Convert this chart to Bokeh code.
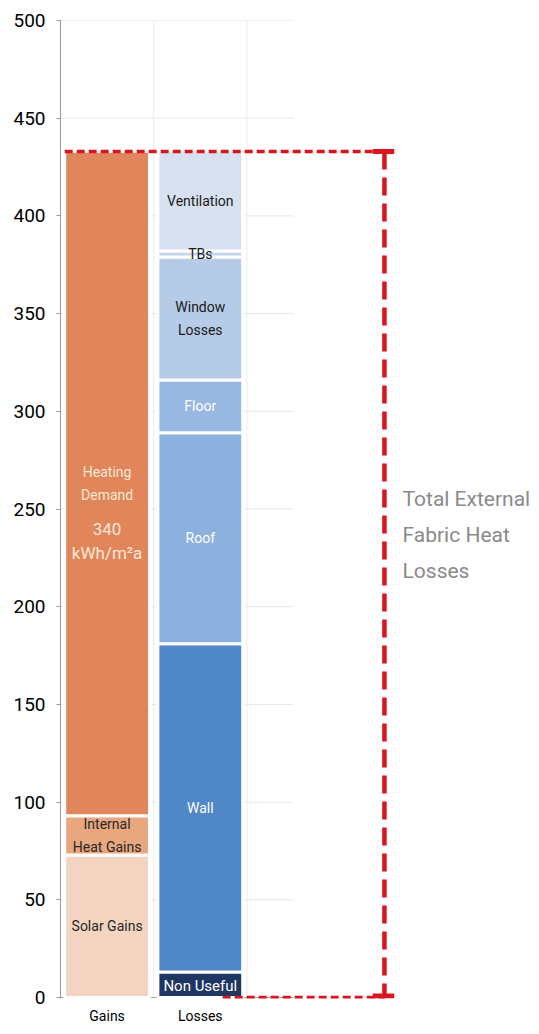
import numpy as np
from bokeh.plotting import figure
from bokeh.models import Range1d, FixedTicker, ColumnDataSource
from bokeh.core.properties import value
from bokeh.embed import file_html
from bokeh.resources import INLINE

# ---------------- data ----------------
categories = ["Gains", "Losses"]

gains_labels = ["Solar Gains", "Internal\nHeat Gains", "Heating\nDemand"]
gains_values = [73, 20, 340]

losses_labels = ["Non Useful", "Wall", "Roof", "Floor", "Window\nLosses", "TBs", "Ventilation"]
losses_values = [13, 168, 108, 27, 63, 3, 51]

y_ticks = [0, 50, 100, 150, 200, 250, 300, 350, 400, 450, 500]

heating_value_text = "340\nkWh/m²a"
bracket_text = "Total External\nFabric Heat\nLosses"

# ---------------- styles ----------------
gains_colors = ["#f2d4c1", "#e9a780", "#e0865a"]
gains_text_colors = ["#262626", "#262626", "#fbe6d8"]
losses_colors = ["#1e3662", "#4f87c7", "#8db1df", "#98b8e1", "#b5cbe6", "#c3d4ec", "#d8e1f0"]
losses_text_colors = ["#ffffff", "#ffffff", "#ffffff", "#ffffff", "#1a1a1a", "#1a1a1a", "#1a1a1a"]

FONT = "Roboto"
RED = "#d9151e"
BAR_W = 0.91

p = figure(width=531, height=1026, output_backend="svg", toolbar_location=None,
           x_range=Range1d(0, 5.054), y_range=Range1d(-0.5, 500),
           min_border_left=60, min_border_right=0, min_border_top=20, min_border_bottom=25)
p.outline_line_color = None
p.xgrid.visible = False
p.ygrid.visible = False
p.background_fill_color = "white"
p.border_fill_color = "white"

# ---------------- grid ----------------
grid_y = y_ticks[1:]
p.segment(x0=[0] * len(grid_y), y0=grid_y, x1=[len(categories) + 0.5] * len(grid_y), y1=grid_y,
          line_color="#e6e6e6", line_width=1)
p.segment(x0=[1, 2], y0=[0, 0], x1=[1, 2], y1=[y_ticks[-1]] * 2, line_color="#ececec", line_width=1)
p.segment(x0=[0], y0=[0], x1=[len(categories) + 0.5], y1=[0], line_color="#a0a0a0", line_width=1)

# ---------------- bars ----------------
def stack(values, labels, colors, tcolors, xc):
    tops = np.cumsum(values)
    bottoms = tops - np.array(values)
    return ColumnDataSource(dict(
        left=[xc - BAR_W / 2] * len(values), right=[xc + BAR_W / 2] * len(values),
        bottom=bottoms, top=tops, mid=(bottoms + tops) / 2, x=[xc] * len(values),
        label=labels, color=colors, tcolor=tcolors))

gsrc = stack(gains_values, gains_labels, gains_colors, gains_text_colors, 0.5)
lsrc = stack(losses_values, losses_labels, losses_colors, losses_text_colors, 1.5)

for src in (gsrc, lsrc):
    p.quad(left="left", right="right", bottom="bottom", top="top", source=src,
           fill_color="color", line_color="white", line_width=3)

# labels on bars
p.text(x="x", y="mid", text="label", source=gsrc, text_color="tcolor",
       text_font=value(FONT), text_font_size="14px", text_align="center",
       text_baseline="middle", text_line_height=1.45)

l_data = {k: list(v)[1:] for k, v in lsrc.data.items()}
p.text(x="x", y="mid", text="label", source=ColumnDataSource(l_data), text_color="tcolor",
       text_font=value(FONT), text_font_size="14px", text_align="center",
       text_baseline="middle", text_line_height=1.45)
nu = {k: list(v)[:1] for k, v in lsrc.data.items()}
p.text(x="x", y="mid", text="label", source=ColumnDataSource(nu), text_color="tcolor",
       text_font=value(FONT), text_font_size="15px", text_align="center",
       text_baseline="middle", y_offset=1)

# heating demand value
heat_mid = gsrc.data["mid"][2]
p.text(x=[0.5], y=[heat_mid], text=[heating_value_text], text_color=gains_text_colors[2],
       text_font=value(FONT), text_font_size="17px", text_align="center",
       text_baseline="middle", text_line_height=1.2, y_offset=57)

# ---------------- bracket ----------------
total = sum(gains_values)
bx = 3.476
p.segment(x0=[0.5 - BAR_W / 2], y0=[total], x1=[bx], y1=[total], line_color=RED,
          line_width=3.5, line_dash="8 4")
p.segment(x0=[1.74], y0=[0], x1=[bx], y1=[0], line_color=RED, line_width=3.5, line_dash="8 4")
p.segment(x0=[bx], y0=[total], x1=[bx], y1=[0], line_color=RED, line_width=4.5, line_dash="18 8")
p.segment(x0=[bx - 0.125, bx - 0.125], y0=[total, 0.8], x1=[bx + 0.105, bx + 0.105], y1=[total, 0.8],
          line_color=RED, line_width=5)

p.text(x=[3.67], y=[236.5], text=[bracket_text], text_color="#8a8a8a",
       text_font=value(FONT), text_font_size="21px", text_align="left",
       text_baseline="middle", text_line_height=1.5)

# ---------------- axes ----------------
p.yaxis.ticker = FixedTicker(ticks=y_ticks)
p.yaxis.axis_line_color = "#9a9a9a"
p.yaxis.major_tick_line_color = "#9a9a9a"
p.yaxis.major_tick_out = 4
p.yaxis.major_tick_in = 0
p.yaxis.minor_tick_line_color = None
p.yaxis.major_label_standoff = 11
p.yaxis.major_label_text_font = FONT
p.yaxis.major_label_text_font_size = "19px"
p.yaxis.major_label_text_color = "#000000"

p.xaxis.ticker = FixedTicker(ticks=[0.5, 1.5])
p.xaxis.major_label_overrides = {0.5: categories[0], 1.5: categories[1]}
p.xaxis.axis_line_color = None
p.xaxis.major_tick_line_color = None
p.xaxis.minor_tick_line_color = None
p.xaxis.major_label_standoff = 3
p.xaxis.major_label_text_font = FONT
p.xaxis.major_label_text_font_size = "14px"
p.xaxis.major_label_text_color = "#000000"

open("out.html", "w").write(file_html(p, INLINE))
